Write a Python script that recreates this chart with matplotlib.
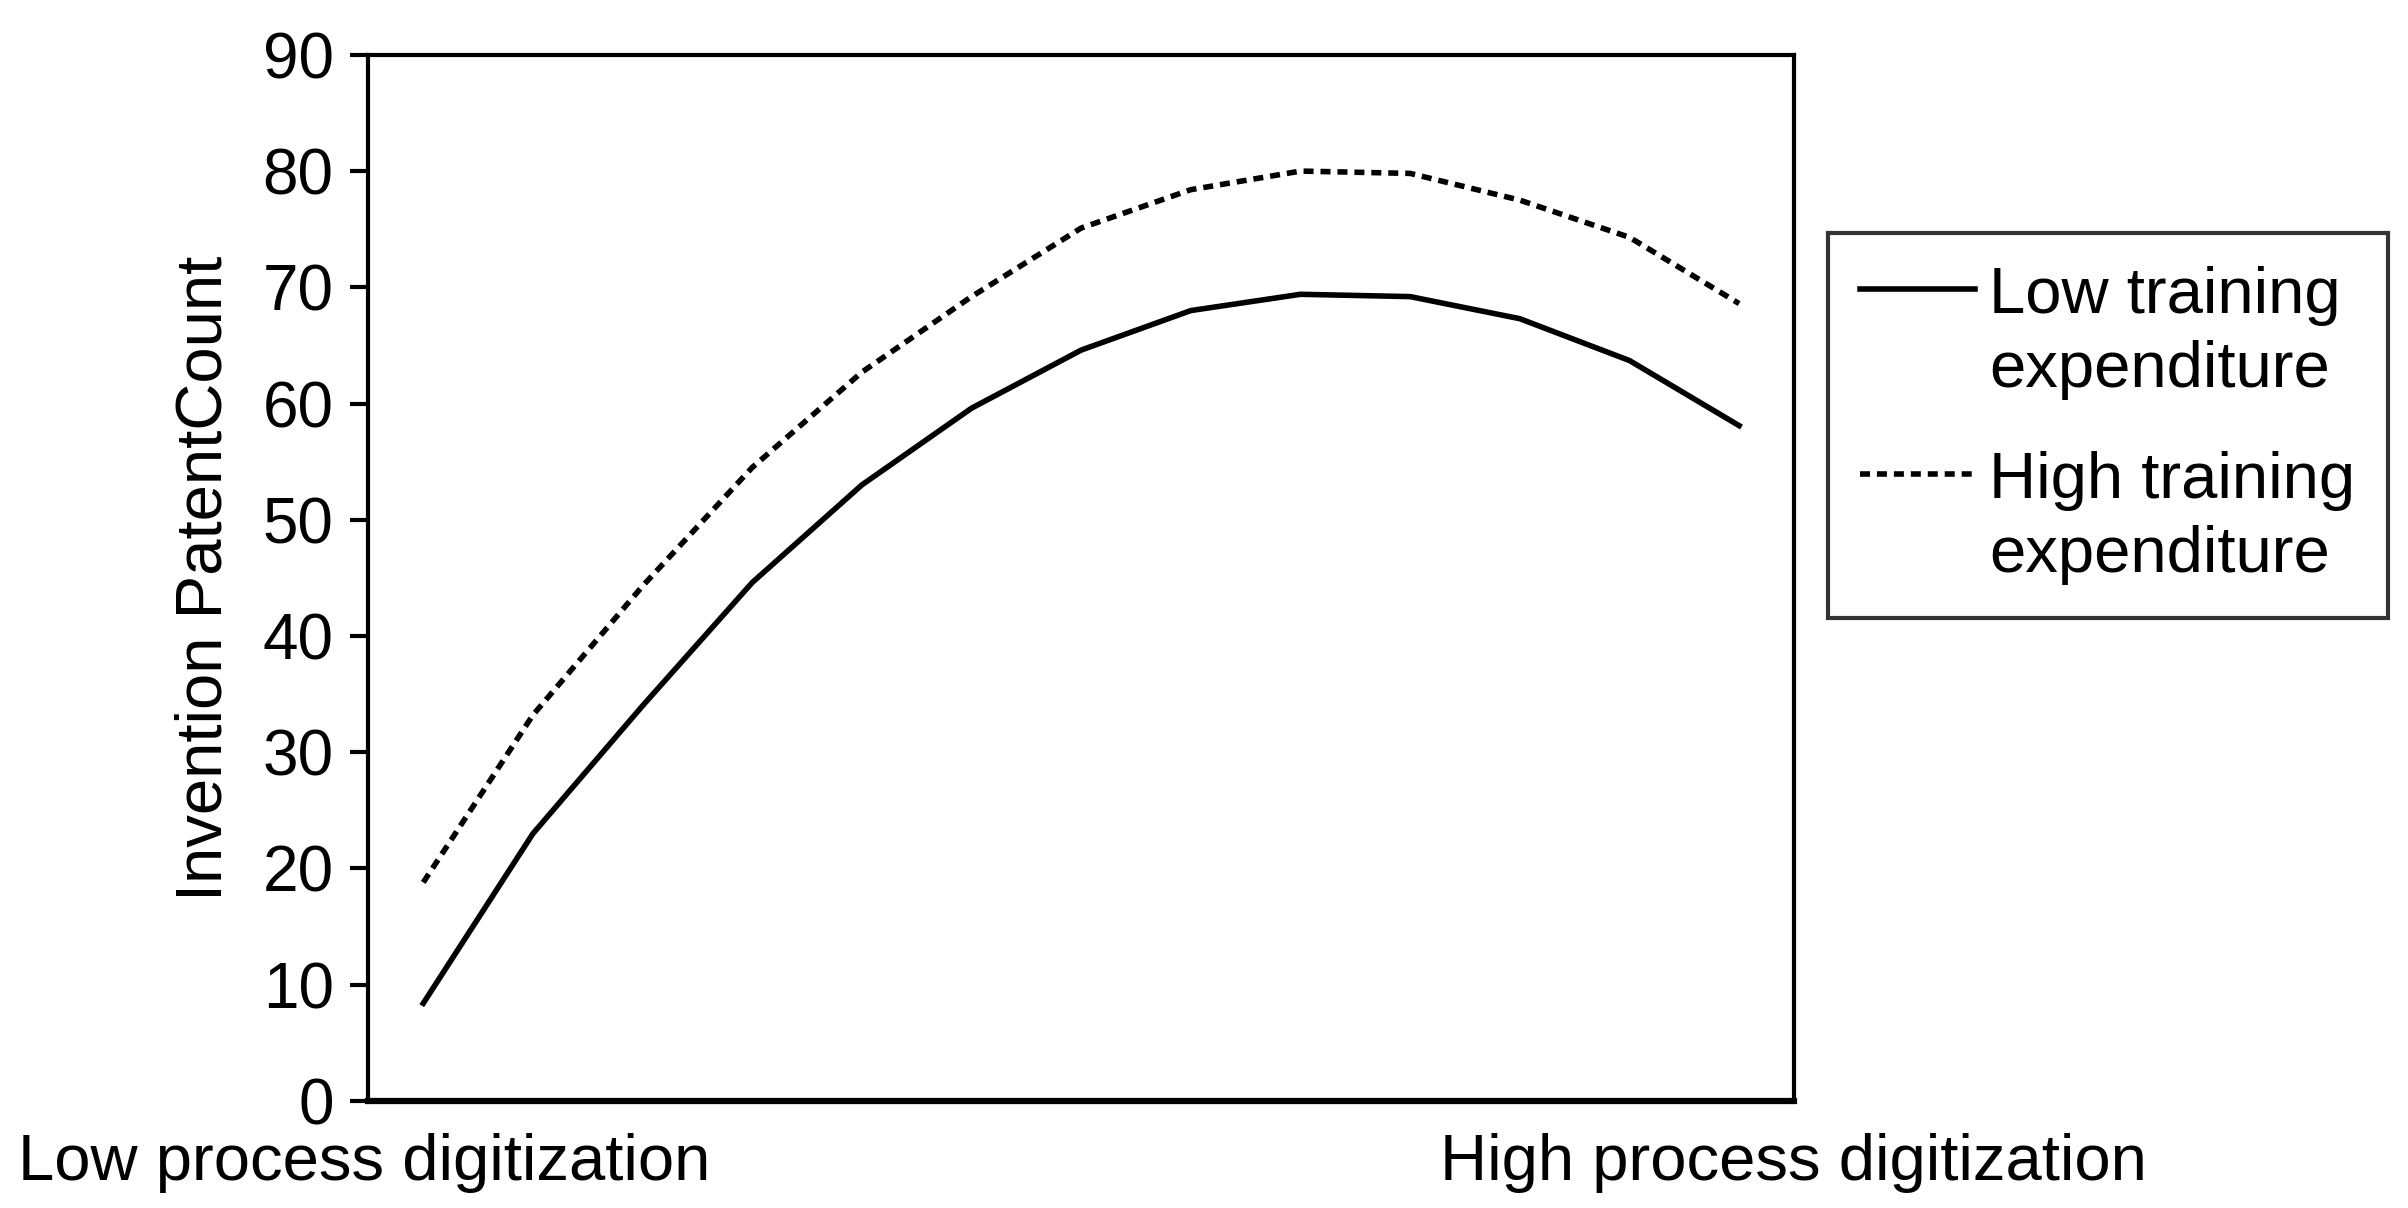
import numpy as np
import matplotlib.pyplot as plt
from matplotlib.legend_handler import HandlerLine2D

plt.rcParams['font.family'] = ['Liberation Sans', 'DejaVu Sans']

# Data (13 evenly spaced levels of process digitization)
levels = np.arange(13)
low_training = [8.4, 23.0, 34.0, 44.6, 53.0, 59.6, 64.6, 68.0, 69.4, 69.2, 67.3, 63.7, 58.1]
high_training = [18.8, 33.2, 44.3, 54.5, 62.7, 69.2, 75.1, 78.4, 80.0, 79.8, 77.5, 74.3, 68.6]
series_names = ['Low training\nexpenditure', 'High training\nexpenditure']
y_ticks = [0, 10, 20, 30, 40, 50, 60, 70, 80, 90]


# legend handle sits level with the first line of a two-line label
class TopLineHandler(HandlerLine2D):
    def create_artists(self, legend, orig_handle, xdescent, ydescent,
                       width, height, fontsize, trans):
        return super().create_artists(legend, orig_handle, xdescent,
                                      ydescent - 1.35 * fontsize, width, height,
                                      fontsize, trans)


fig = plt.figure(figsize=(24.08, 12.08), dpi=100)
ax = fig.add_axes([0.153, 0.0886, 0.592, 0.866])

ax.plot(levels, low_training, color='black', linewidth=4, label=series_names[0])
ax.plot(levels, high_training, color='black', linewidth=4, dashes=(1.8, 1.25),
        label=series_names[1])

ax.set_xlim(-0.5, 12.5)
ax.set_ylim(0, 90)
ax.set_yticks(y_ticks)
ax.set_xticks([])
ax.tick_params(axis='y', labelsize=46, length=13, width=3, direction='out', pad=12)
for s in ax.spines.values():
    s.set_linewidth(3)
ax.spines['bottom'].set_linewidth(4.5)

ax.set_ylabel('Invention PatentCount', fontsize=47, labelpad=20)

fig.text(0.0075, 0.0232, 'Low process digitization', fontsize=47, ha='left', va='baseline')
fig.text(0.8915, 0.0232, 'High process digitization', fontsize=47, ha='right', va='baseline')

leg = fig.legend(loc='upper left', bbox_to_anchor=(0.759, 0.807), fontsize=47,
                 frameon=True, fancybox=False, edgecolor='black', handlelength=1.75,
                 handletextpad=0.22, borderpad=0.5, labelspacing=0.78, borderaxespad=0,
                 handler_map={plt.Line2D: TopLineHandler()})
leg.get_frame().set_linewidth(3)
for t in leg.get_texts():
    t.set_linespacing(1.3)

plt.savefig('out.png', dpi=100)
